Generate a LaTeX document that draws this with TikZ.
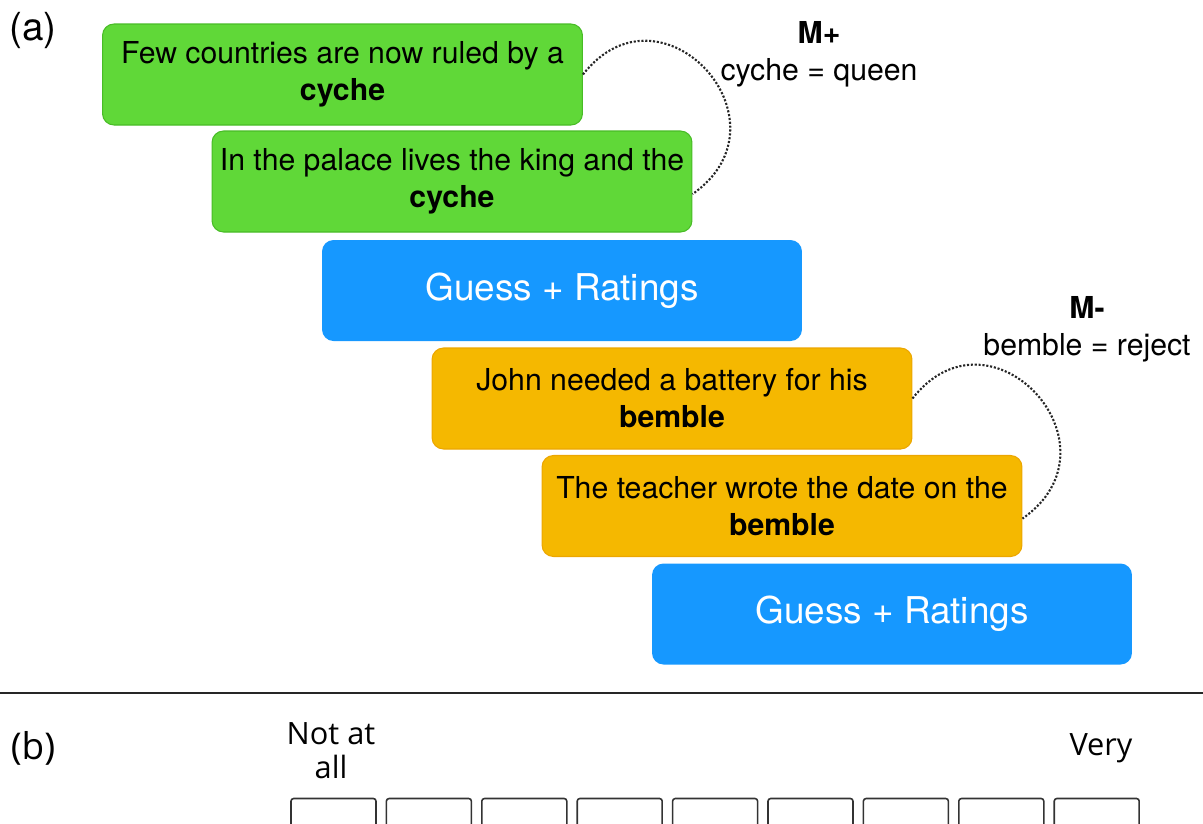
\documentclass[tikz,border=0pt]{standalone}
\usepackage{fontspec}
\setmainfont{TeX Gyre Heros}
\newfontfamily\ratingfont{Open Sans}
\definecolor{ctxgreen}{RGB}{96, 216, 56}
\definecolor{ctxgreenline}{RGB}{72, 188, 38}
\definecolor{guessblue}{RGB}{22, 152, 255}
\definecolor{ctxorange}{RGB}{245, 184, 0}
\definecolor{ctxorangeline}{RGB}{236, 166, 0}
\usetikzlibrary{positioning, calc}

\begin{document}
\begin{tikzpicture}[x=0.02cm, y=0.02cm,
  ctxbox/.style={rounded corners=6.5pt, minimum width=9.6cm, minimum height=2.02cm, align=center, inner sep=0pt, font=\fontsize{17.2}{21}\selectfont, line width=0.6pt},
  greenbox/.style={ctxbox, draw=ctxgreenline, fill=ctxgreen},
  orangebox/.style={ctxbox, draw=ctxorangeline, fill=ctxorange},
  guessbox/.style={ctxbox, fill=guessblue, text=white, font=\fontsize{21}{24}\selectfont},
  link/.style={densely dotted, line width=1.2pt, black!85},
  tag/.style={align=center, font=\fontsize{17.2}{21}\selectfont},
  ratebox/.style={draw=black!80, line width=0.9pt, rounded corners=1.5pt, minimum width=1.7cm, minimum height=1.3cm, inner sep=0pt},
  ratelabel/.style={align=center, font=\ratingfont\fontsize{17.5}{19.5}\selectfont},
]
  \useasboundingbox (0,0) rectangle (1203,-823);
  \clip (0,0) rectangle (1203,-823);

  % Panel (a): sentence pairs
  \node[font=\fontsize{22}{24}\selectfont] (panelA) at (33,-30) {(a)};

  \node[greenbox] (ctxA) at (342.5,-74.5) {Few countries are now ruled by a\\\textbf{cyche}};
  \node[greenbox] (ctxB) at (452,-181.5) {In the palace lives the king and the\\\textbf{cyche}};
  \node[guessbox] (guessA) at (562,-290.5) {Guess + Ratings};
  \node[orangebox] (ctxC) at (672,-398.5) {John needed a battery for his\\\textbf{bemble}};
  \node[orangebox] (ctxD) at (782,-506) {The teacher wrote the date on the\\\textbf{bemble}};
  \node[guessbox] (guessB) at (892,-614) {Guess + Ratings};

  % Meaning tags
  \node[tag] (tagPlus) at (819,-54) {\textbf{M+}\\cyche = queen};
  \node[tag] (tagMinus) at (1087,-329) {\textbf{M-}\\bemble = reject};

  \draw[link] (ctxA.east) to[out=52, in=35, looseness=2] (ctxB.-3);
  \draw[link] (ctxC.east) to[out=52, in=35, looseness=2] (ctxD.-3);

  % Divider
  \draw[line width=1.4pt, black!85] (0,-693) -- (1203,-693);

  % Panel (b): rating scale
  \node[font=\ratingfont\fontsize{21}{24}\selectfont] (panelB) at (33,-748) {(b)};
  \node[ratelabel] (lowEnd) at (331,-751) {Not at\\all};
  \node[ratelabel] (highEnd) at (1101,-748) {Very};
  \foreach \i in {0,...,8}
    \node[ratebox] (rate\i) at (333.5+95.4*\i,-831) {};
\end{tikzpicture}
\end{document}
